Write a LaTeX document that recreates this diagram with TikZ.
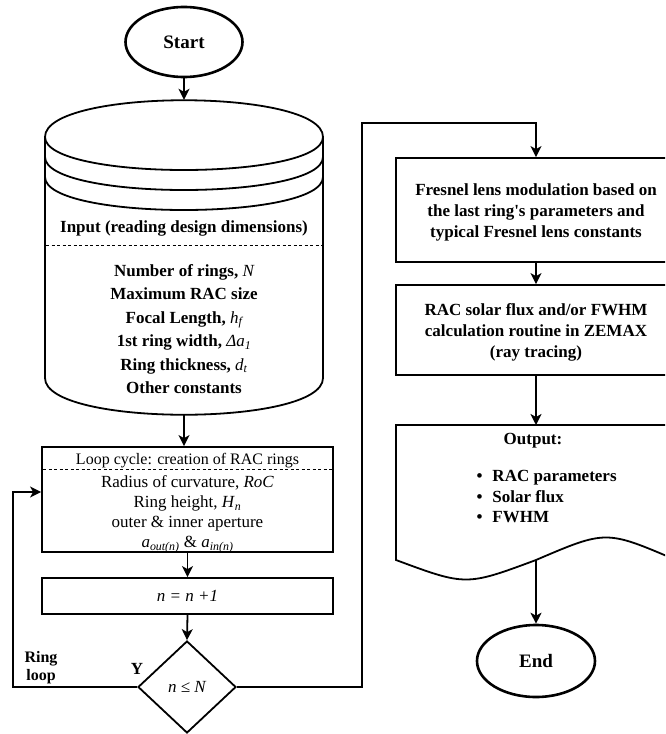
\documentclass[tikz,border=0pt]{standalone}
\usepackage{fontspec}
\setmainfont{Liberation Serif}[Ligatures=TeXOff]
\usetikzlibrary{arrows.meta,shapes.geometric}
\tikzset{
  conn/.style={line width=1.8pt,-{Stealth[length=11pt,width=11pt,inset=3pt]}},
  termnode/.style={ellipse,draw,line width=2.6pt,inner sep=0pt,font=\fontsize{19}{22}\selectfont\bfseries},
  procbox/.style={rectangle,draw,line width=1.8pt,inner sep=0pt},
  btext/.style={align=center,font=\fontsize{17}{21}\selectfont\bfseries},
  rtext/.style={align=center,font=\fontsize{17}{20}\selectfont},
  shapeline/.style={line width=1.8pt},
  sepline/.style={line width=0.9pt,dash pattern=on 3pt off 2.5pt}
}
\begin{document}
\begin{tikzpicture}[x=1pt,y=-1pt]
\clip (0,0) rectangle (665,734);
\fill[white] (0,0) rectangle (665,734);

% Start
\node[termnode,minimum width=117pt,minimum height=70pt] (start) at (184,42) {Start};

% Cylinder (input)
\node[minimum width=278pt,minimum height=315pt,inner sep=0pt] (cyl) at (184,257.5) {};
\draw[shapeline] (45,137) .. controls (45,88) and (323,88) .. (323,137)
  -- (323,378) .. controls (323,427) and (45,427) .. (45,378) -- cycle;
\draw[shapeline] (45,137) .. controls (45,181) and (323,181) .. (323,137);
\draw[shapeline] (45,157) .. controls (45,201) and (323,201) .. (323,157);
\draw[shapeline] (45,177) .. controls (45,221) and (323,221) .. (323,177);
\node[btext] (intitle) at (184,228) {Input (reading design dimensions)};
\draw[sepline] (46,245) -- (322,245);
\node[btext,font=\fontsize{17}{23.5}\selectfont\bfseries] (inlist) at (184,329)
  {Number of rings, {\mdseries\itshape N}\\
   Maximum RAC size\\
   Focal Length, {\mdseries\itshape h\textsubscript{f}}\\
   1st ring width, {\mdseries\itshape Δa\textsubscript{1}}\\
   Ring thickness, {\mdseries\itshape d\textsubscript{t}}\\
   Other constants};

% Loop box
\node[procbox,minimum width=291pt,minimum height=105pt] (loop) at (187.5,499.5) {};
\node[rtext,font=\fontsize{16}{19}\selectfont] (looptitle) at (187.5,461) {Loop cycle: creation of RAC rings};
\draw[sepline] (43,469) -- (332,469);
\node[rtext] (looplist) at (187.5,514.5)
  {Radius of curvature, \textit{RoC}\\
   Ring height, \textit{H}\textsubscript{\textit{n}}\\
   outer \& inner aperture\\
   \textit{a}\textsubscript{\textit{out(n)}} \& \textit{a}\textsubscript{\textit{in(n)}}};

% Increment box
\node[procbox,minimum width=291pt,minimum height=36pt,font=\fontsize{17}{20}\selectfont\itshape] (incr) at (187.5,596) {n = n +1};

% Decision
\node[diamond,draw,line width=1.8pt,inner sep=0pt,minimum width=98pt,minimum height=92pt,font=\fontsize{17}{20}\selectfont\itshape] (dec) at (187,687) {n ≤ N};
\node[font=\fontsize{17}{20}\selectfont\bfseries] (ylab) at (137,669) {Y};
\node[btext,font=\fontsize{16}{18}\selectfont\bfseries] (ringloop) at (41,668) {Ring\\loop};

% Right column
\node[procbox,minimum width=280pt,minimum height=104pt] (fres) at (536,210) {};
\node[btext] (frestext) at (536,212) {Fresnel lens modulation based on\\the last ring's parameters and\\typical Fresnel lens constants};
\node[procbox,minimum width=280pt,minimum height=90pt] (rac) at (536,330) {};
\node[btext] (ractext) at (536,332) {RAC solar flux and/or FWHM\\calculation routine in ZEMAX\\(ray tracing)};

% Output document shape
\draw[shapeline] (396,425) -- (676,425) -- (676,560)
  .. controls (606,530) .. (536,560)
  .. controls (466,586) .. (396,560) -- cycle;
\coordinate (outtop) at (536,425);
\coordinate (outbot) at (536,560);
\node[btext] (outtitle) at (533,441) {Output:};
\node[anchor=west,font=\fontsize{17}{20.5}\selectfont\bfseries] (outlist) at (473,498)
  {\begin{tabular}{@{}l@{\hspace{10pt}}l@{}}
   • & RAC parameters\\
   • & Solar flux\\
   • & FWHM
   \end{tabular}};

% End
\node[termnode,minimum width=118pt,minimum height=72pt] (end) at (536,661) {End};

% Connectors
\draw[conn] (start.south) -- (cyl.north);
\draw[conn] (cyl.south) -- (cyl.south |- loop.north);
\draw[conn] (loop.south) -- (incr.north);
\draw[conn] (incr.south) -- (dec.north);
\coordinate (lpA) at (13,687);
\coordinate (lpB) at (13,492);
\draw[conn] (dec.west) -- (lpA) -- (lpB) -- (lpB -| loop.west);
\coordinate (exA) at (362,687);
\coordinate (exB) at (362,123);
\draw[conn] (dec.east) -- (exA) -- (exB) -- (exB -| fres.north) -- (fres.north);
\draw[conn] (fres.south) -- (rac.north);
\draw[conn] (rac.south) -- (outtop);
\draw[conn] (outbot) -- (end.north);
\end{tikzpicture}
\end{document}
